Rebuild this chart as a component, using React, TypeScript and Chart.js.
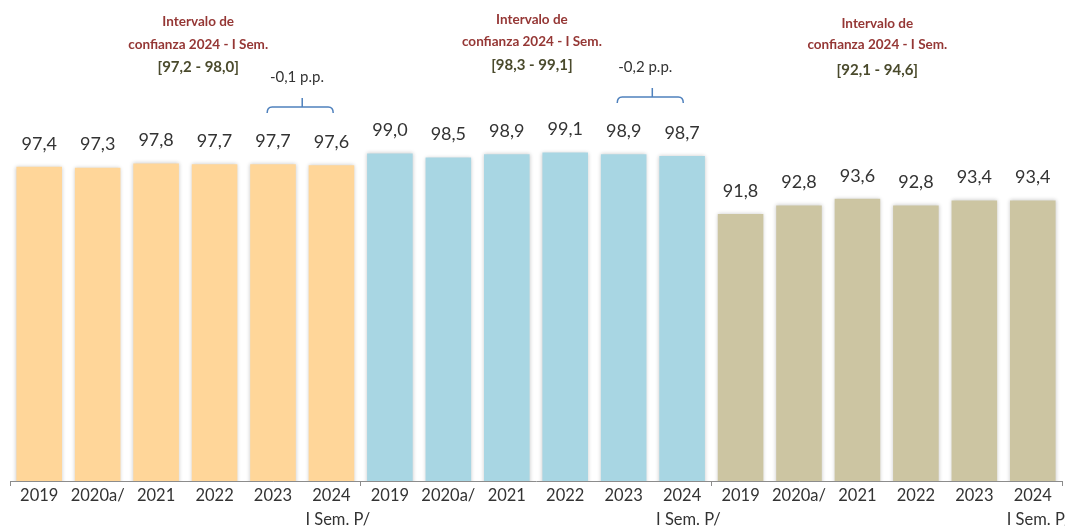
import React, { useEffect, useRef } from "react";
import { Chart, registerables } from "chart.js";

Chart.register(...registerables);

const categories: (string | string[])[] = [
  "2019", "2020a/", "2021", "2022", "2023", ["2024", "   I Sem. P/"],
  "2019", "2020a/", "2021", "2022", "2023", ["2024", "   I Sem. P/"],
  "2019", "2020a/", "2021", "2022", "2023", ["2024", "   I Sem. P/"],
];

const values = [
  97.4, 97.3, 97.8, 97.7, 97.7, 97.6,
  99.0, 98.5, 98.9, 99.1, 98.9, 98.7,
  91.8, 92.8, 93.6, 92.8, 93.4, 93.4,
];

const groupColors = ["#FFD699", "#A8D6E3", "#CCC5A2"];
const intervalTitle1 = "Intervalo de";
const intervalTitle2 = "confianza 2024 - I Sem.";
const intervalRanges = ["[97,2 - 98,0]", "[98,3 - 99,1]", "[92,1 - 94,6]"];
const changeLabels = ["-0,1 p.p.", "-0,2 p.p."];

// layout of annotations (category-index units for x, pixels for y)
const intervalPos = [
  { x: 2.72, y1: 22, y2: 45, y3: 67 },
  { x: 8.43, y1: 20, y2: 42, y3: 65 },
  { x: 14.34, y1: 24, y2: 45, y3: 70 },
];
const bracketPos = [
  { from: 3.9, to: 5.03, mid: 4.5, y: 107, textX: 4.41, textY: 77 },
  { from: 9.89, to: 11.02, mid: 10.49, y: 97, textX: 10.37, textY: 67 },
];

const fmt = (v: number) => v.toFixed(1).replace(".", ",");

const shadowPlugin = {
  id: "barShadow",
  beforeDatasetsDraw(chart: any) {
    const ctx = chart.ctx;
    ctx.save();
    ctx.shadowColor = "rgba(0,0,0,0.22)";
    ctx.shadowBlur = 4;
    ctx.shadowOffsetX = 0;
    ctx.shadowOffsetY = 0;
  },
  afterDatasetsDraw(chart: any) {
    chart.ctx.restore();
  },
};

const labelsPlugin = {
  id: "valueLabels",
  afterDraw(chart: any) {
    const ctx = chart.ctx;
    const meta = chart.getDatasetMeta(0);
    const xs = chart.scales.x;
    ctx.save();
    ctx.textAlign = "center";
    ctx.textBaseline = "middle";
    ctx.fillStyle = "#333333";
    ctx.font = "18px Lato";
    meta.data.forEach((bar: any, i: number) => {
      ctx.fillText(fmt(values[i]), bar.x, bar.y - 23);
    });

    intervalPos.forEach((p, i) => {
      const x = xs.getPixelForValue(p.x);
      ctx.fillStyle = "#953735";
      ctx.font = "bold 13.5px Lato";
      ctx.fillText(intervalTitle1, x, p.y1);
      ctx.fillText(intervalTitle2, x, p.y2);
      ctx.fillStyle = "#4A4A2C";
      ctx.font = "bold 15px Lato";
      ctx.fillText(intervalRanges[i], x, p.y3);
    });

    bracketPos.forEach((b, i) => {
      const x0 = xs.getPixelForValue(b.from);
      const x1 = xs.getPixelForValue(b.to);
      const xm = xs.getPixelForValue(b.mid);
      ctx.strokeStyle = "#4F81BD";
      ctx.lineWidth = 1.5;
      ctx.beginPath();
      ctx.moveTo(x0, b.y + 6);
      ctx.quadraticCurveTo(x0, b.y, x0 + 5, b.y);
      ctx.lineTo(x1 - 5, b.y);
      ctx.quadraticCurveTo(x1, b.y, x1, b.y + 6);
      ctx.moveTo(xm, b.y);
      ctx.lineTo(xm, b.y - 9);
      ctx.stroke();
      ctx.fillStyle = "#333333";
      ctx.font = "15px Lato";
      ctx.fillText(changeLabels[i], xs.getPixelForValue(b.textX), b.textY);
    });
    ctx.restore();
  },
};

export default function App() {
  const ref = useRef<HTMLCanvasElement | null>(null);

  useEffect(() => {
    document.body.style.margin = "0";
    if (!ref.current) return;
    const chart = new Chart(ref.current, {
      type: "bar",
      data: {
        labels: categories,
        datasets: [
          {
            data: values,
            backgroundColor: values.map((_, i) => groupColors[Math.floor(i / 6)]),
            borderWidth: 0,
            barPercentage: 0.78,
            categoryPercentage: 1,
          },
        ],
      },
      options: {
        animation: false,
        responsive: false,
        maintainAspectRatio: false,
        layout: { padding: { top: 145, left: 10, right: 3, bottom: 0 } },
        plugins: { legend: { display: false }, tooltip: { enabled: false } },
        scales: {
          y: { display: false, min: 60, max: 100 },
          x: {
            offset: true,
            grid: {
              offset: true,
              drawOnChartArea: false,
              drawTicks: true,
              tickLength: 5,
              color: (c: any) =>
                c.index === undefined || c.index % 6 === 0 ? "#8c8c8c" : "rgba(0,0,0,0)",
            },
            border: { display: true, color: "#8c8c8c", width: 1 },
            ticks: {
              autoSkip: false,
              maxRotation: 0,
              padding: -3,
              color: "#333333",
              font: { family: "Lato", size: 16.5, lineHeight: 1.5 },
            },
            afterFit: (s: any) => {
              s.height = 47;
              s.paddingLeft = 0;
              s.paddingRight = 0;
            },
          },
        },
      },
      plugins: [shadowPlugin, labelsPlugin],
    });
    return () => chart.destroy();
  }, []);

  return <canvas ref={ref} width={1065} height={528} style={{ display: "block" }} />;
}
